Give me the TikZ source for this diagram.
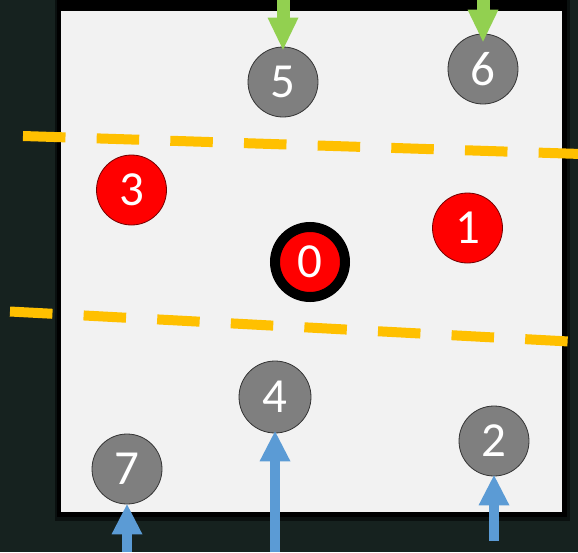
\documentclass[tikz,border=0pt]{standalone}
\usepackage{fontspec}
\setmainfont{Carlito}
\usetikzlibrary{arrows.meta,calc}
\definecolor{bgdark}{HTML}{16221F}
\definecolor{panel}{HTML}{F2F2F2}
\definecolor{dashc}{HTML}{FFC000}
\definecolor{greenc}{HTML}{92D050}
\definecolor{bluec}{HTML}{5B9BD5}
\definecolor{grayc}{HTML}{7F7F7F}
\definecolor{redc}{HTML}{FF0000}
\tikzset{
  disc/.style={circle,minimum size=70pt,inner sep=0pt,text=white,
    font=\fontsize{49}{49}\selectfont},
  graydisc/.style={disc,fill=grayc,draw=black!80,line width=0.8pt},
  reddisc/.style={disc,fill=redc,draw=red!45!black,line width=0.8pt},
  centerdisc/.style={disc,fill=redc,draw=black,line width=10pt},
  boundary/.style={dashc,line width=10pt,dash pattern=on 42.5pt off 31.2pt},
  inarrow/.style={greenc,line width=13pt,-{Triangle[width=31pt,length=32pt,line width=0pt]}},
  outarrow/.style={bluec,line width=9.5pt,-{Triangle[width=31pt,length=30pt,line width=0pt]}},
}
\begin{document}
\begin{tikzpicture}[x=1pt,y=-1pt]
  \useasboundingbox (0,0) rectangle (578,552);
  % background
  \fill[bgdark] (0,0) rectangle (578,552);
  % panel shadow and panel
  \fill[black,opacity=0.5] (55,0) rectangle (570,521);
  \fill[black] (57,0) rectangle (567,517);
  \filldraw[fill=panel,draw=black,line width=1pt] (60,10) rectangle (562,512);
  % dashed boundaries
  \coordinate (d1a) at (23,136);
  \coordinate (d1b) at (600,154.6);
  \coordinate (d2a) at (10,311.5);
  \coordinate (d2b) at (569,341.5);
  \draw[boundary] (d1a) -- (d1b);
  \draw[boundary] (d2a) -- (d2b);
  % discs
  \node[graydisc] (n5) at (283,82) {5};
  \node[graydisc] (n6) at (483,69) {6};
  \node[reddisc] (n3) at (131.5,190) {3};
  \node[reddisc] (n1) at (467.5,228) {1};
  \node[centerdisc] (n0) at (310,262) {0};
  \node[graydisc,minimum size=72pt] (n4) at (275,397) {4};
  \node[graydisc] (n7) at (127,469) {7};
  \node[graydisc] (n2) at (494,441) {2};
  % free ends of arrows
  \coordinate (s5) at (283,0);
  \coordinate (s6) at (483,0);
  \coordinate (s7) at (127,552);
  \coordinate (s4) at (275,552);
  \coordinate (s2) at (494,541);
  % arrows
  \draw[inarrow] (s5) -- ($(n5.north)+(0,3)$);
  \draw[inarrow] (s6) -- ($(n6.north)+(0,8)$);
  \draw[outarrow] (s7) -- (n7.south);
  \draw[outarrow] (s4) -- ($(n4.south)+(0,-2)$);
  \draw[outarrow] (s2) -- ($(n2.south)+(0,-1)$);
\end{tikzpicture}
\end{document}
